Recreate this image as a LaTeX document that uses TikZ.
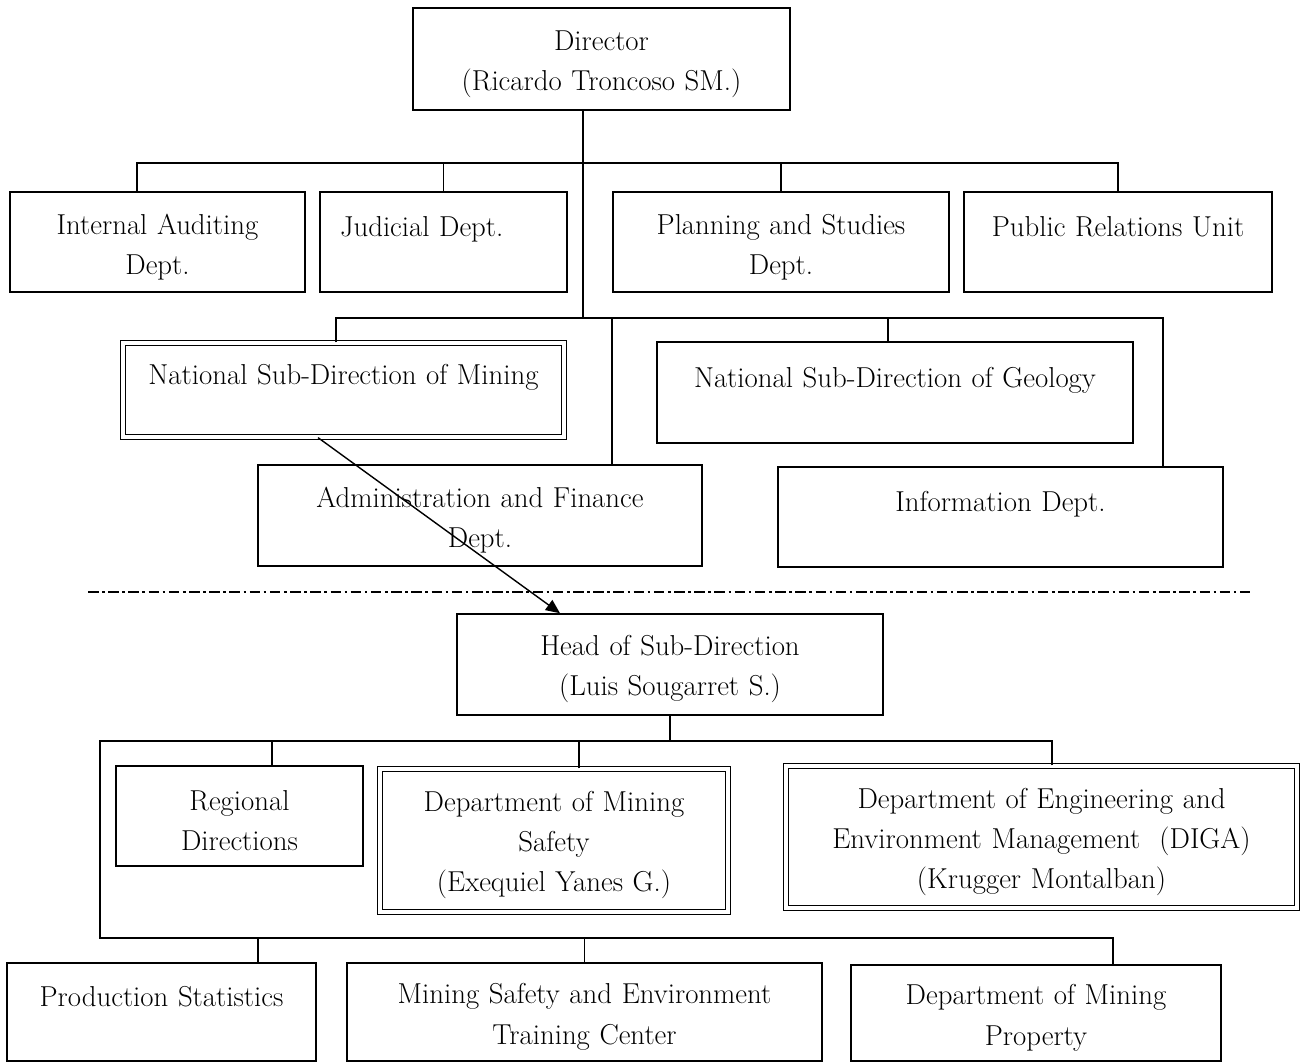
\documentclass[tikz,border=0pt]{standalone}
\usepackage{fontspec}
\usepackage{tikz}
\usetikzlibrary{arrows.meta}

\begin{document}
\begin{tikzpicture}[x=0.2mm,y=-0.2mm,
  unit/.style={rectangle,draw=black,line width=0.9pt,inner sep=0pt,align=center,
    minimum width=#1cm,text width=#1cm,minimum height=2.00cm,
    font=\fontsize{16.4}{22.8}\selectfont,execute at begin node={\rule{0pt}{17pt}}},
  unitd/.style={unit=#1,double,double distance=1.9pt,line width=0.7pt},
  link/.style={draw=black,line width=0.8pt},
  sep/.style={draw=black,line width=0.8pt,dash pattern=on 6pt off 2pt on 1.5pt off 2pt}]
\useasboundingbox (0,0) rectangle (1303,1063);
% top level
\node[unit=7.54,minimum height=2.04cm] (dir) at (601.5,59) {Director\\(Ricardo Troncoso SM.)};
\node[unit=5.90] (audit) at (157.5,242) {Internal Auditing\\Dept.};
\node[unit=4.94,text width=4.14cm,align=left] (judicial) at (443.5,242) {Judicial Dept.\\~};
\node[unit=6.72] (plan) at (781,242) {Planning and Studies\\Dept.};
\node[unit=6.16] (pr) at (1118,242) {Public Relations Unit\\~};
\node[unitd=8.82,minimum height=1.88cm] (mining) at (343.5,390) {National Sub-Direction of Mining\\~};
\node[unit=9.52,minimum height=2.02cm] (geo) at (895,392.5) {National Sub-Direction of Geology\\~};
\node[unit=8.88,minimum height=2.02cm] (admin) at (480,515.5) {Administration and Finance\\Dept.};
\node[unit=8.90] (info) at (1000.5,517) {Information Dept.\\~};
\coordinate (bus1) at (583,163);
\coordinate (bus2) at (583,318);
\draw[link] (dir.south -| bus1) -- (bus2);
\draw[link] ([xshift=-4.1mm]audit.north) |- (bus1) -| (pr.north);
\draw[link] (judicial.north) -- (judicial.north |- bus1);
\draw[link] (plan.north) -- (plan.north |- bus1);
\draw[link] ([xshift=-1.5mm]mining.north) |- (bus2) -| ([xshift=32.5mm]info.north);
\draw[link] ([xshift=-1.4mm]geo.north) -- ([xshift=-1.4mm]geo.north |- bus2);
\draw[link] ([xshift=26.4mm]admin.north) -- ([xshift=26.4mm]admin.north |- bus2);
% separation
\coordinate (sepL) at (88,592);
\coordinate (sepR) at (1252,592);
\draw[sep] (sepL) -- (sepR);
% sub-direction of mining
\node[unit=8.52,minimum height=2.02cm] (head) at (670,664.5) {Head of Sub-Direction\\(Luis Sougarret S.)};
\draw[link,-{Triangle[length=8pt,width=7pt]}] ([xshift=-5.1mm]mining.south) -- ([xshift=-22mm]head.north);
\node[unit=4.94] (regional) at (239.5,816) {Regional\\Directions};
\node[unitd=6.96,minimum height=2.86cm] (safety) at (554,840.5) {Department of Mining\\Safety\\(Exequiel Yanes G.)};
\node[unitd=10.22,minimum height=2.84cm] (diga) at (1041.5,837) {Department of Engineering and\\Environment Management~~(DIGA)\\(Krugger Montalban)};
\node[unit=6.18,minimum height=1.96cm] (prod) at (161.5,1012) {Production Statistics\\~};
\node[unit=9.50,minimum height=1.96cm] (train) at (584.5,1012) {Mining Safety and Environment\\Training Center};
\node[unit=7.40,minimum height=1.92cm] (prop) at (1036,1013) {Department of Mining\\Property};
\coordinate (c3) at (100,741);
\coordinate (c4) at (100,938);
\draw[link] ([xshift=2.1mm]diga.north) |- (c3) -- (c4) -| ([xshift=15.4mm]prop.north);
\draw[link] (head.south) -- (head.south |- c3);
\draw[link] ([xshift=6.5mm]regional.north) -- ([xshift=6.5mm]regional.north |- c3);
\draw[link] ([xshift=5mm]safety.north) -- ([xshift=5mm]safety.north |- c3);
\draw[link] ([xshift=19.3mm]prod.north) -- ([xshift=19.3mm]prod.north |- c4);
\draw[link] (train.north) -- (train.north |- c4);
\end{tikzpicture}
\end{document}
